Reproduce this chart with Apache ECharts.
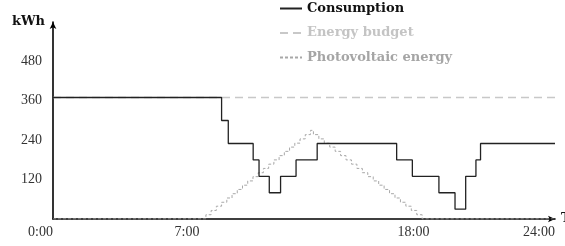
<!DOCTYPE html>
<html>
<head>
<meta charset="utf-8">
<script src="https://cdn.jsdelivr.net/npm/echarts@6/dist/echarts.min.js"></script>
<style>
  html, body { margin: 0; padding: 0; background: #fff; }
  #chart { width: 565px; height: 246px; }
</style>
</head>
<body>
<div id="chart"></div>
<script>
// hours of day / kWh
const consTimes = [0, 8.06, 8.38, 9.57, 9.85, 10.34, 10.88, 11.62, 12.63, 16.43, 17.18, 18.45, 19.22, 19.73, 20.22, 20.44, 24];
const consValues = [370, 300, 230, 180, 130, 80, 130, 180, 230, 180, 130, 80, 30, 130, 180, 230, 230];

const budgetTimes = [0, 24];
const budgetValues = [370, 370];

const pvTimes = [0,
  7.31, 7.56, 7.81, 8.06, 8.31, 8.56, 8.81, 9.06, 9.31, 9.56, 9.81,
  10.06, 10.31, 10.56, 10.81, 11.06, 11.31, 11.56, 11.81, 12.06, 12.31,
  12.45, 12.71, 12.97, 13.23, 13.49, 13.75, 14.01, 14.27, 14.53, 14.79,
  15.05, 15.31, 15.57, 15.83, 16.09, 16.35, 16.61, 16.87, 17.13, 17.39, 17.65,
  24];
const pvValues = [0,
  13, 26, 39, 51, 64, 77, 90, 103, 116, 129, 141,
  154, 167, 180, 193, 206, 219, 231, 244, 257, 270,
  257, 244, 231, 219, 206, 193, 180, 167, 154, 141,
  129, 116, 103, 90, 77, 64, 51, 39, 26, 13, 0,
  0];

const xTickLabels = [0, 7, 18, 24];
const yTickLabels = [120, 240, 360, 480];

const serif = '"DejaVu Serif", serif';
const tickFont = '"Liberation Serif", serif';

const pairs = (xs, ys) => xs.map((x, i) => [x, ys[i]]);

const chart = echarts.init(document.getElementById('chart'));

chart.setOption({
  animation: false,
  grid: { left: 53, right: 10, top: 22, bottom: 27, containLabel: false, outerBoundsMode: 'none' },
  legend: {
    orient: 'vertical',
    left: 279,
    top: 2,
    padding: 0,
    itemWidth: 22,
    itemHeight: 14,
    itemGap: 11.5,
    itemStyle: { color: 'transparent', borderWidth: 0, opacity: 0 },
    textStyle: { fontFamily: serif, fontWeight: 'bold', fontSize: 13 },
    data: [
      { name: 'Consumption', textStyle: { color: '#111' } },
      { name: 'Energy budget', textStyle: { color: '#c4c4c4' } },
      { name: 'Photovoltaic energy', textStyle: { color: '#a5a5a5' } },
    ],
  },
  xAxis: {
    type: 'value',
    min: 0,
    max: 24,
    interval: 1,
    name: 'Time',
    nameLocation: 'end',
    nameGap: 1,
    nameTextStyle: { fontFamily: serif, fontWeight: 'bold', fontSize: 13, color: '#111', verticalAlign: 'middle' },
    axisLine: { lineStyle: { color: '#000', width: 1.6 }, symbol: ['none', 'arrow'], symbolSize: [5, 7] },
    axisTick: { show: false },
    splitLine: { show: false },
    axisLabel: {
      showMinLabel: true,
      showMaxLabel: true,
      align: 'right',
      margin: 6,
      fontFamily: tickFont,
      fontSize: 14,
      color: '#333',
      formatter: (v) => (xTickLabels.includes(v) ? v + ':00' : ''),
    },
  },
  yAxis: {
    type: 'value',
    min: 0,
    max: 600,
    interval: 120,
    name: 'kWh',
    nameLocation: 'end',
    nameGap: 0,
    nameTextStyle: {
      fontFamily: serif, fontWeight: 'bold', fontSize: 13, color: '#111',
      align: 'right', verticalAlign: 'middle', padding: [0, 8, 0, 0],
    },
    axisLine: { show: true, lineStyle: { color: '#000', width: 1.6 }, symbol: ['none', 'arrow'], symbolSize: [5, 7] },
    axisTick: { show: false },
    splitLine: { show: false },
    axisLabel: {
      margin: 11,
      fontFamily: tickFont,
      fontSize: 14,
      color: '#333',
      formatter: (v) => (yTickLabels.includes(v) ? String(v) : ''),
    },
  },
  series: [
    {
      name: 'Energy budget',
      type: 'line',
      step: 'end',
      symbol: 'none',
      z: 1,
      lineStyle: { color: '#c8c8c8', width: 1.5, type: [8, 5] },
      data: pairs(budgetTimes, budgetValues),
    },
    {
      name: 'Photovoltaic energy',
      type: 'line',
      step: 'end',
      symbol: 'none',
      z: 2,
      lineStyle: { color: '#a8a8a8', width: 1, type: [3, 2] },
      data: pairs(pvTimes, pvValues),
    },
    {
      name: 'Consumption',
      type: 'line',
      step: 'end',
      symbol: 'none',
      z: 3,
      lineStyle: { color: '#222', width: 1.3 },
      data: pairs(consTimes, consValues),
    },
  ],
});
</script>
</body>
</html>
